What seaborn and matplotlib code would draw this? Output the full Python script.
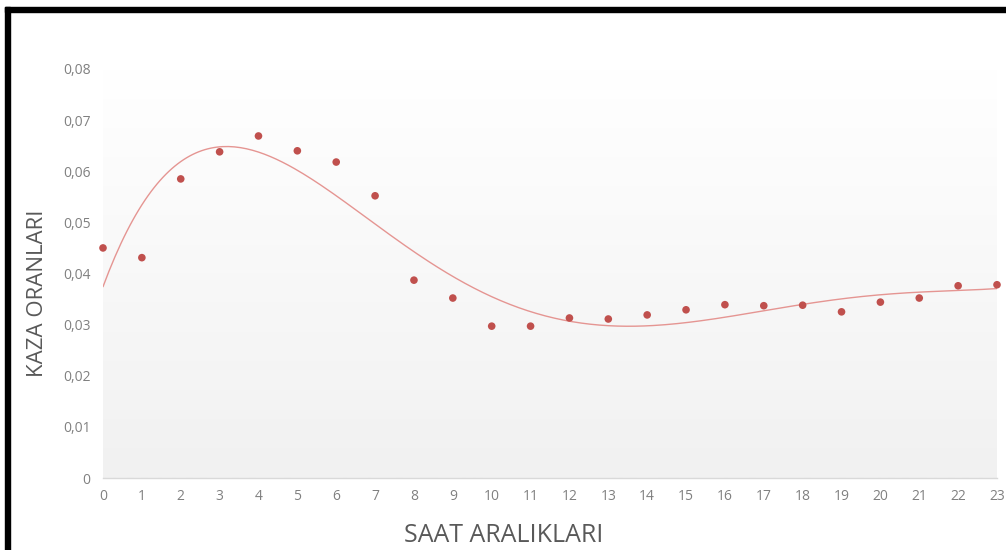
import numpy as np
import matplotlib
matplotlib.use('Agg')
import matplotlib.pyplot as plt
from matplotlib.patches import Rectangle
import seaborn as sns

hours = list(range(24))
rates = [0.0450, 0.0431, 0.0585, 0.0638, 0.0669, 0.0640, 0.0618, 0.0552,
         0.0387, 0.0352, 0.0297, 0.0297, 0.0313, 0.0311, 0.0319, 0.0329,
         0.0339, 0.0337, 0.0338, 0.0325, 0.0344, 0.0352, 0.0376, 0.0378]
y_ticks = [0, 0.01, 0.02, 0.03, 0.04, 0.05, 0.06, 0.07, 0.08]
x_label = 'SAAT ARALIKLARI'
y_label = 'KAZA ORANLARI'

dot_red = '#c0504d'
trend_red = '#e59592'

sns.set_style('white')
plt.rcParams['font.family'] = ['Open Sans', 'DejaVu Sans']

fig = plt.figure(figsize=(10.06, 5.5), dpi=100)
ax = fig.add_axes([103/1006, 1-478/550, 894/1006, 409/550])

# soft grey gradient behind the data, like the Excel plot area
grad = np.linspace(1.0, 0.0, 256).reshape(-1, 1)
ax.imshow(grad, extent=[0, 23, 0, 0.08], aspect='auto', origin='upper',
          cmap=matplotlib.colors.LinearSegmentedColormap.from_list('g', ['#f1f1f1', '#ffffff']),
          zorder=0)

# polynomial trendline (order 5) fitted to the data
coef = np.polyfit(hours, rates, 5)
xs = np.linspace(0, 23, 300)
sns.lineplot(x=xs, y=np.polyval(coef, xs), color=trend_red, linewidth=1.0, ax=ax, zorder=2)
sns.scatterplot(x=hours, y=rates, color=dot_red, s=30, edgecolor='none', ax=ax,
                zorder=3, clip_on=False)

ax.set_xlim(0, 23)
ax.set_ylim(0, 0.08)
ax.set_xticks(hours)
ax.set_yticks(y_ticks)
ax.set_yticklabels(['0' if t == 0 else f'{t:.2f}'.replace('.', ',') for t in y_ticks])
ax.tick_params(axis='both', length=0, labelsize=10, colors='#808080')
ax.tick_params(axis='y', pad=9)
ax.tick_params(axis='x', pad=8)
for s in ['top', 'right', 'left']:
    ax.spines[s].set_visible(False)
ax.spines['bottom'].set_color('#d9d9d9')
ax.spines['bottom'].set_linewidth(1)

fig.text(504/1006, 1-535/550, x_label, fontsize=18, color='#595959', ha='center', va='center')
fig.text(38/1006, 1-293/550, y_label, fontsize=16, color='#595959', ha='center', va='center',
         rotation=90)

# black frame on top and left edges
fig.add_artist(Rectangle((5/1006, 0), 5/1006, 1-7/550, transform=fig.transFigure,
                         color='black', zorder=10))
fig.add_artist(Rectangle((5/1006, 1-12/550), 1, 5/550, transform=fig.transFigure,
                         color='black', zorder=10))

fig.savefig('out.png', dpi=100)
